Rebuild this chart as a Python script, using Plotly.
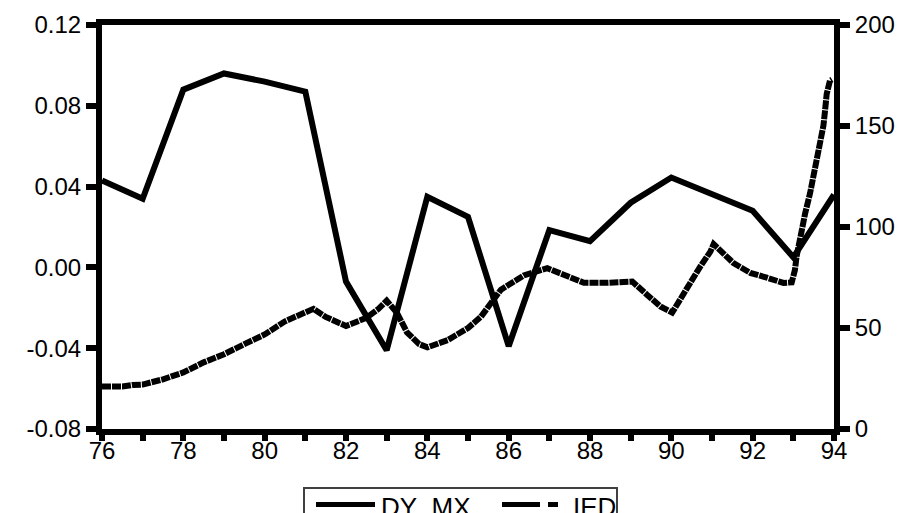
import plotly.graph_objects as go

# ---- data ----
dy_years = list(range(1976, 1995))
dy_mx = [0.043, 0.034, 0.088, 0.096, 0.092, 0.087, -0.007, -0.041, 0.035, 0.025,
         -0.039, 0.0185, 0.013, 0.032, 0.0445, 0.036, 0.028, 0.005, 0.036]

ied_t = [76.0, 76.5, 76.75, 77.0, 77.5, 78.0, 78.5, 79.0, 79.5, 80.0, 80.5, 81.0, 81.2,
         81.5, 81.8, 82.0, 82.5, 82.8, 83.0, 83.25, 83.5, 83.8, 84.0, 84.5, 85.0, 85.32,
         85.81, 86.37, 86.95, 87.44, 87.85, 88.42, 88.75, 89.04, 89.4, 89.73, 90.02,
         90.39, 90.71, 90.96, 91.04, 91.53, 91.94, 92.35, 92.76, 92.96, 93.04, 93.08,
         93.16, 93.29, 93.41, 93.53, 93.66, 93.74, 93.78, 93.82, 93.9, 93.95]
ied = [21.0, 21.0, 21.8, 22.0, 24.6, 28.0, 33.0, 37.0, 42.0, 46.8, 53.3, 58.3, 59.5,
       55.5, 52.5, 51.0, 55.0, 59.5, 63.5, 57.6, 47.8, 42.0, 40.4, 44.0, 50.0, 55.6,
       69.0, 76.0, 79.6, 75.5, 72.4, 72.4, 73.0, 73.0, 66.5, 60.7, 57.6,
       70.6, 80.4, 87.8, 91.5, 82.1, 77.3, 74.9, 72.3, 72.6, 78.8, 85.4,
       95.2, 106.7, 116.6, 128.0, 141.2, 150.2, 157.6, 165.8, 172.4, 173.0]

x_tickvals = list(range(76, 95, 2))
x_ticktext = [str(v) for v in x_tickvals]
yl_tickvals = [-0.08, -0.04, 0.0, 0.04, 0.08, 0.12]
yl_ticktext = ["-0.08", "-0.04", "0.00", "0.04", "0.08", "0.12"]
yr_tickvals = [0, 50, 100, 150, 200]
yr_ticktext = ["0", "50", "100", "150", "200"]
legend_names = ["DY_MX", "IED"]

# ---- layout geometry ----
W, H = 899, 513
PL, PR, PT, PB = 102, 834, 25, 429   # plot area in px
FONT = "Arial, Liberation Sans, sans-serif"

def px(x):
    return (x - PL) / (PR - PL)

def py(y):
    return (PB - y) / (PB - PT)

dy_x = [y - 1900 for y in dy_years]

fig = go.Figure()
fig.add_trace(go.Scatter(x=dy_x, y=dy_mx, mode="lines", name=legend_names[0],
                         line=dict(color="black", width=6), yaxis="y"))
fig.add_trace(go.Scatter(x=ied_t, y=ied, mode="lines", name=legend_names[1],
                         line=dict(color="black", width=6, dash="9px,1px"), yaxis="y2"))

axis_common = dict(showgrid=False, zeroline=False, showline=True, linecolor="black",
                   linewidth=6, ticks="outside", tickcolor="black", tickwidth=6,
                   tickfont=dict(family=FONT, size=24, color="black"))

fig.update_layout(
    width=W, height=H,
    margin=dict(l=PL, r=W - PR, t=PT, b=H - PB, pad=0),
    paper_bgcolor="white", plot_bgcolor="white",
    showlegend=False,
    xaxis=dict(range=[76, 94], tickmode="array", tickvals=x_tickvals, ticktext=x_ticktext,
               ticklen=6, mirror=True, ticklabelstandoff=-11, automargin=False,
               minor=dict(dtick=1, ticks="outside", ticklen=6, tickwidth=6, tickcolor="black"),
               **axis_common),
    yaxis=dict(range=[-0.08, 0.12], tickmode="array", tickvals=yl_tickvals,
               ticktext=yl_ticktext, ticklen=10, automargin=False, **axis_common),
    yaxis2=dict(range=[0, 200], tickmode="array", tickvals=yr_tickvals,
                ticktext=yr_ticktext, ticklen=10, overlaying="y", side="right",
                automargin=False, **axis_common),
)

# ---- manual legend (box, samples, labels) ----
fig.add_shape(type="rect", xref="paper", yref="paper",
              x0=px(304), x1=px(617), y0=py(488), y1=py(530),
              line=dict(color="#404040", width=2), fillcolor="white", layer="above")
fig.add_shape(type="line", xref="paper", yref="paper",
              x0=px(316), x1=px(375), y0=py(504.5), y1=py(504.5),
              line=dict(color="black", width=5))
fig.add_shape(type="line", xref="paper", yref="paper",
              x0=px(502), x1=px(540), y0=py(504.5), y1=py(504.5),
              line=dict(color="black", width=5))
fig.add_shape(type="line", xref="paper", yref="paper",
              x0=px(548), x1=px(558), y0=py(504.5), y1=py(504.5),
              line=dict(color="black", width=5))
fig.add_annotation(text=legend_names[0], xref="paper", yref="paper", x=px(379), y=py(506.6),
                   xanchor="left", yanchor="middle", showarrow=False,
                   font=dict(family=FONT, size=26, color="black"))
fig.add_annotation(text=legend_names[1], xref="paper", yref="paper", x=px(571), y=py(506.6),
                   xanchor="left", yanchor="middle", showarrow=False,
                   font=dict(family=FONT, size=26, color="black"))

fig.write_html("out.html")
